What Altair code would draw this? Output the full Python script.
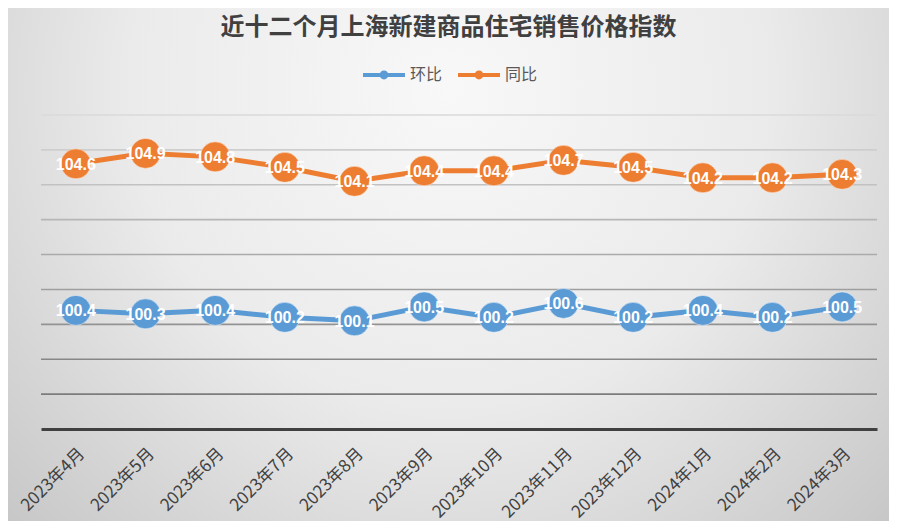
import altair as alt
import pandas as pd

# ---- data ----
months = ["2023年4月", "2023年5月", "2023年6月", "2023年7月", "2023年8月", "2023年9月",
          "2023年10月", "2023年11月", "2023年12月", "2024年1月", "2024年2月", "2024年3月"]
mom = [100.4, 100.3, 100.4, 100.2, 100.1, 100.5, 100.2, 100.6, 100.2, 100.4, 100.2, 100.5]  # 环比
yoy = [104.6, 104.9, 104.8, 104.5, 104.1, 104.4, 104.4, 104.7, 104.5, 104.2, 104.2, 104.3]  # 同比
series_names = ["环比", "同比"]
series_colors = ["#5B9BD5", "#ED7D31"]
grid_values = [98, 99, 100, 101, 102, 103, 104, 105, 106]
y_domain = [97, 106]

rows = []
for name, vals in zip(series_names, [mom, yoy]):
    for m, v in zip(months, vals):
        rows.append({"month": m, "series": name, "value": v})
df = pd.DataFrame(rows)
grid_df = pd.DataFrame({"g": grid_values})

W, H = 836, 314
PAD = {"left": 33, "top": 107, "right": 12, "bottom": 92}

bg = alt.Chart(pd.DataFrame({"k": [0]})).mark_rect(
    clip=False,
    fill={
        "gradient": "radial",
        "x1": 0.5, "y1": 0.3, "r1": 0,
        "x2": 0.5, "y2": 0.3, "r2": 0.8,
        "stops": [
            {"offset": 0, "color": "#f8f8f8"},
            {"offset": 0.45, "color": "#ebebeb"},
            {"offset": 1, "color": "#bdbdbd"},
        ],
    },
).encode(
    x=alt.value(-PAD["left"]), x2=alt.value(W + PAD["right"]),
    y=alt.value(-PAD["top"]), y2=alt.value(H + PAD["bottom"]),
)

yscale = alt.Scale(domain=y_domain, nice=False, zero=False)

grid = alt.Chart(grid_df).mark_rule(strokeWidth=1.6).encode(
    y=alt.Y("g:Q", scale=yscale, axis=None),
    stroke=alt.Stroke("g:Q", scale=alt.Scale(domain=[98, 106], range=["#7c7c7c", "#dadada"]), legend=None),
)

xenc = alt.X(
    "month:N", sort=months, scale=alt.Scale(type="point", padding=0.5),
    axis=alt.Axis(title=None, labelAngle=-45, labelFontSize=17, labelColor="#404040",
                  labelFont="Noto Sans CJK SC", domainColor="#404040", domainWidth=3,
                  ticks=False, grid=False, labelPadding=16, zindex=1),
)
yenc = alt.Y("value:Q", scale=yscale, axis=None)

legend_path = ("M-1,-0.095L1,-0.095L1,0.095L-1,0.095Z "
               "M0.21,0A0.21,0.21,0,1,1,-0.21,0A0.21,0.21,0,1,1,0.21,0Z")
legend = alt.Legend(orient="none", legendX=322, legendY=-61, direction="horizontal", title=None,
                    symbolType=legend_path, symbolSize=1764, symbolStrokeWidth=0,
                    labelFontSize=16, labelColor="#595959", labelFont="Noto Sans CJK SC",
                    columnPadding=15, labelOffset=5, padding=0, zindex=1)
cenc = alt.Color("series:N", sort=series_names,
                 scale=alt.Scale(domain=series_names, range=series_colors), legend=legend)

base = alt.Chart(df).encode(x=xenc, y=yenc)
points = base.mark_point(filled=True, size=900, opacity=1, stroke="white",
                         strokeWidth=1, strokeOpacity=0.45).encode(color=cenc, detail="series:N")
lines = base.mark_line(strokeWidth=5).encode(color=cenc, detail="series:N")
labels = base.mark_text(color="white", fontSize=16, fontWeight="bold",
                        font="Liberation Sans", dy=1).encode(text=alt.Text("value:Q", format=".1f"))

chart = alt.layer(bg, grid, points, lines, labels).properties(
    width=W, height=H,
    autosize=alt.AutoSizeParams(type="none"),
    padding=PAD,
    title=alt.TitleParams("近十二个月上海新建商品住宅销售价格指数", fontSize=24, fontWeight="bold",
                          color="#404040", font="Noto Sans CJK SC", anchor="middle", offset=-32,
                          frame="bounds", zindex=1),
).resolve_scale(color="shared").configure(background="#d0d0d0").configure_view(stroke=None)

chart.save("out.html", embed_options={"renderer": "svg", "actions": False})
